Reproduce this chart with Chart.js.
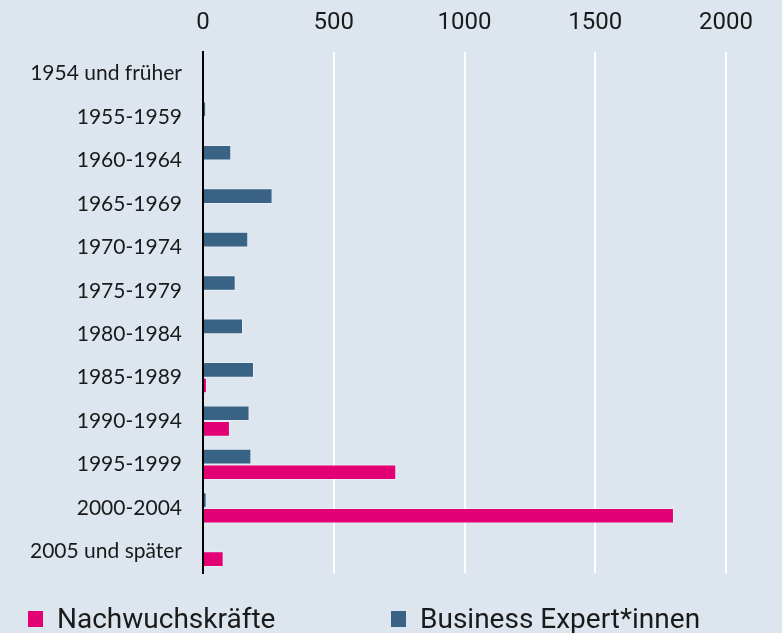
<!DOCTYPE html>
<html>
<head>
<meta charset="utf-8">
<script src="https://cdn.jsdelivr.net/npm/chart.js@4"></script>
<style>
  html, body { margin: 0; padding: 0; background: #dde6ef; }
  #wrap { width: 782px; height: 633px; }
</style>
</head>
<body>
<div id="wrap"><canvas id="grafico"></canvas></div>
<script>
// Jahrgänge (Kategorien)
var jahrgaenge = ['1954 und früher', '1955-1959', '1960-1964', '1965-1969', '1970-1974', '1975-1979',
                  '1980-1984', '1985-1989', '1990-1994', '1995-1999', '2000-2004', '2005 und später'];
// Werte pro Gruppe
var businessExperten = [0, 12, 108, 266, 173, 125, 153, 195, 178, 185, 14, 0];
var nachwuchskraefte = [0, 0, 0, 0, 0, 0, 0, 15, 103, 739, 1801, 79];
// Achse
var xTicks = [0, 500, 1000, 1500, 2000];

var farbeMagenta = '#e20074';
var farbeBlau = '#396384';
var textFarbe = '#1a1a1a';

// Legende unten, zwei Spalten
var legendePlugin = {
    id: 'legendeUnten',
    afterDraw: function(chart) {
        var ctx = chart.ctx;
        var eintraege = [chart.data.datasets[1], chart.data.datasets[0]];
        ctx.save();
        ctx.font = '28px Roboto, "Liberation Sans", sans-serif';
        ctx.textBaseline = 'middle';
        eintraege.forEach(function(ds, i) {
            var x = 28 + i * 363;
            var y = 619;
            ctx.fillStyle = ds.backgroundColor;
            ctx.fillRect(x, y - 8, 15, 16);
            ctx.fillStyle = textFarbe;
            ctx.fillText(ds.label, x + 29, y + 2);
        });
        ctx.restore();
    }
};

var ctx1 = document.getElementById('grafico').getContext('2d');
var myChart = new Chart(ctx1, {
    type: 'bar',
    data: {
        labels: jahrgaenge,
        datasets: [
            {
                label: 'Business Expert*innen',
                data: businessExperten,
                backgroundColor: farbeBlau,
                borderColor: 'rgba(255,255,255,0.3)',
                borderWidth: 1
            },
            {
                label: 'Nachwuchskräfte',
                data: nachwuchskraefte,
                backgroundColor: farbeMagenta,
                borderColor: 'rgba(255,255,255,0.3)',
                borderWidth: 1
            }
        ]
    },
    options: {
        indexAxis: 'y',
        responsive: true,
        maintainAspectRatio: false,
        animation: false,
        layout: {
            padding: { top: 4, right: 56, bottom: 60, left: 0 }
        },
        datasets: {
            bar: { categoryPercentage: 0.72, barPercentage: 1.0 }
        },
        plugins: {
            legend: { display: false },
            tooltip: { enabled: false }
        },
        scales: {
            x: {
                position: 'top',
                min: 0,
                max: 2000,
                afterBuildTicks: function(scale) {
                    scale.ticks = xTicks.map(function(v) { return { value: v }; });
                },
                afterFit: function(scale) { scale.height = 48; },
                ticks: {
                    padding: 15,
                    color: textFarbe,
                    font: { family: 'Roboto, "Liberation Sans", sans-serif', size: 24 },
                    callback: function(v) { return String(v); }
                },
                grid: {
                    drawTicks: false,
                    lineWidth: 2,
                    color: function(c) { return c.tick && c.tick.value === 0 ? 'rgba(0,0,0,0)' : '#ffffff'; }
                },
                border: { display: false }
            },
            y: {
                afterFit: function(scale) { scale.width = 203; },
                ticks: {
                    padding: 21,
                    color: textFarbe,
                    font: { family: 'Lato, "Noto Sans", sans-serif', size: 21 }
                },
                grid: { display: false, drawTicks: false },
                border: { display: true, color: '#000000', width: 2 }
            }
        }
    },
    plugins: [legendePlugin]
});
</script>
</body>
</html>
